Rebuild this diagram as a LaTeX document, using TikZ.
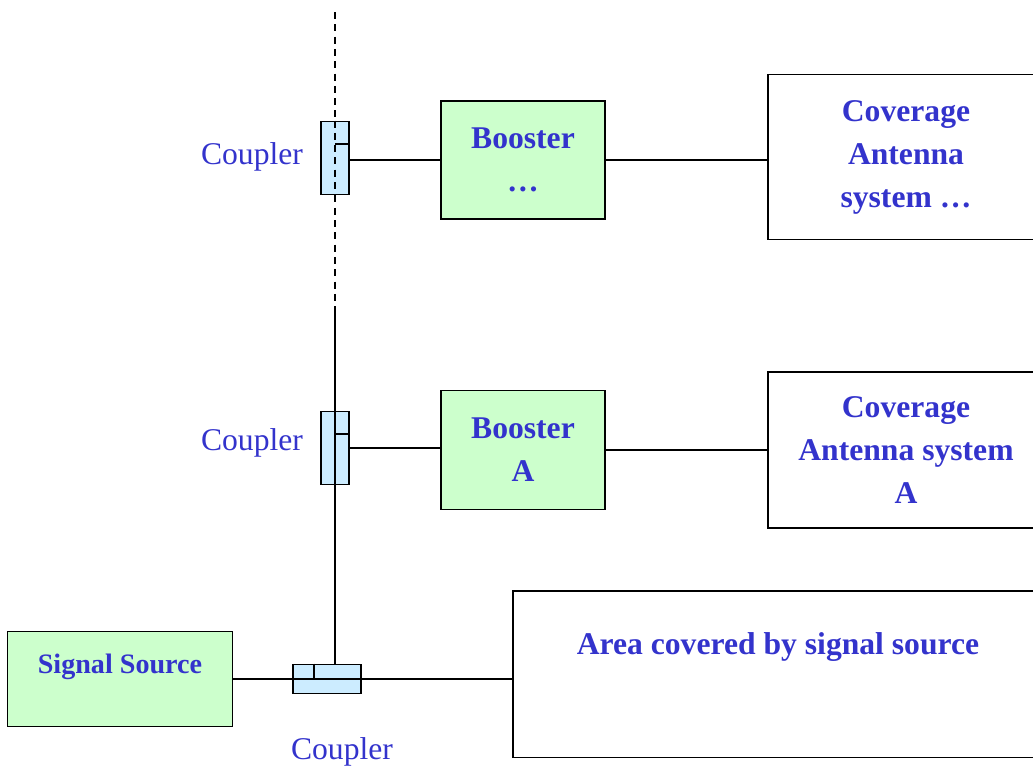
\documentclass[tikz,border=0pt]{standalone}
\usepackage{fontspec}
\setmainfont{Liberation Serif}
\definecolor{txtblue}{HTML}{3333CC}
\definecolor{boxgreen}{HTML}{CCFFCC}
\definecolor{cplblue}{HTML}{CCECFF}
\begin{document}
\begin{tikzpicture}[x=0.02cm,y=-0.02cm,line width=1.1pt]

      \clip (0,0) rectangle (1033,769);

      % couplers
      \begin{scope}[every node/.style={rectangle,draw,fill=cplblue,inner sep=0pt}]
        \node[minimum width=0.56cm,minimum height=1.46cm] (cT) at (335,158) {};
        \node[minimum width=0.56cm,minimum height=1.46cm] (cA) at (335,448) {};
        \node[minimum width=1.36cm,minimum height=0.58cm] (cS) at (327,679) {};
      \end{scope}

      % boxes
      \begin{scope}[every node/.style={rectangle,draw,align=center,text=txtblue,
          font=\fontsize{18}{24.5}\selectfont\bfseries}]
        \node[fill=boxgreen,minimum width=3.28cm,minimum height=2.36cm] (bT) at (523,160) {Booster\\\dots};
        \node[fill=boxgreen,minimum width=3.28cm,minimum height=2.38cm] (bA) at (523,450) {Booster\\A};
        \node[minimum width=5.52cm,minimum height=3.3cm] (covT) at (906,157) {Coverage\\Antenna\\system \dots};
        \node[minimum width=5.52cm,minimum height=3.12cm] (covA) at (906,450) {Coverage\\Antenna system\\A};
        \node[fill=boxgreen,minimum width=4.5cm,minimum height=1.9cm,text depth=0.62cm,
          font=\fontsize{16}{19}\selectfont\bfseries] (src) at (120,679) {Signal Source};
        \node[minimum width=10.6cm,minimum height=3.34cm,text depth=1.2cm] (area) at (778,674) {Area covered by signal source};
      \end{scope}

      % labels
      \begin{scope}[every node/.style={text=txtblue,font=\fontsize{18}{21.5}\selectfont}]
        \node (lT) at (252,157) {Coupler};
        \node (lA) at (252,443) {Coupler};
        \node (lS) at (342,752) {Coupler};
      \end{scope}

      % trunk line
      \coordinate (top) at (335,12);
      \coordinate (brk) at (335,310);
      \draw[dash pattern=on 4pt off 3pt] (top) -- (cT.north);
      \draw[dash pattern=on 4pt off 3pt] (cT.south) -- (brk);
      \draw (brk) -- (cA.north);
      \draw (cA.south) -- (cA.south |- cS.north);
      \draw (src.east |- cS.west) -- (cS.west);
      \draw (cS.east) -- (cS.east -| area.west);

      % branches
      \draw (cT.east |- bT.west) -- (bT.west);
      \draw (bT.east) -- (bT.east -| covT.west);
      \draw (cA.east) -- (cA.east -| bA.west);
      \draw (bA.east) -- (bA.east -| covA.west);

      % inside couplers
      \draw[dash pattern=on 4pt off 3pt] (cT.north) -- (cT.south);
      \draw (cT.north) ++(0,23) -- ++(14,0);
      \draw (cA.north) -- (cA.south);
      \draw (cA.north) ++(0,23) -- ++(14,0);
      \draw (cS.west) -- (cS.east);
      \draw (cS.north west) ++(22,0) -- ++(0,15);

    \end{tikzpicture}
\end{document}
